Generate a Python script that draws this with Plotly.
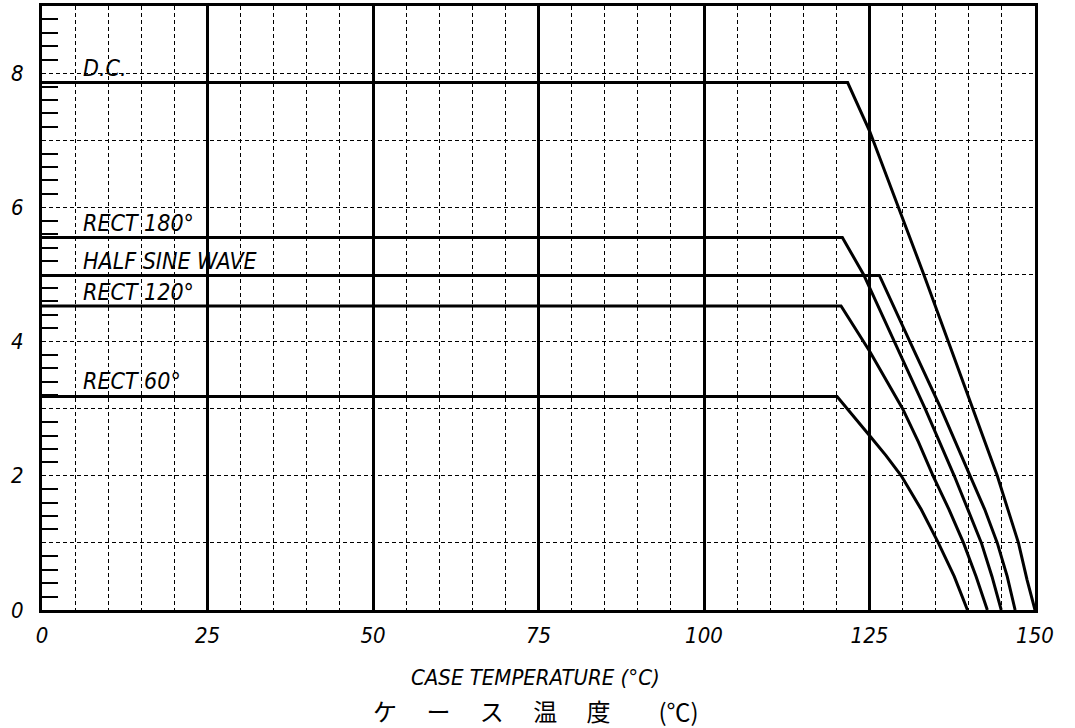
import plotly.graph_objects as go

# ---- data ----
temp_dc = [0, 121.7, 125, 129.4, 133.2, 136.9, 140.6, 142.5, 144.3, 145.9, 147.5, 148.8, 150]
cur_dc = [7.86, 7.86, 7.14, 6.0, 5.0, 4.0, 3.0, 2.5, 2.0, 1.5, 1.0, 0.45, 0.0]

temp_r180 = [0, 120.9, 124.1, 128.8, 133.4, 137.8, 139.9, 141.9, 143.5, 144.9]
cur_r180 = [5.55, 5.55, 5.0, 4.0, 3.0, 2.0, 1.5, 1.0, 0.5, 0.0]

temp_hsw = [0, 126.5, 131.1, 135.8, 140.2, 142.4, 144.3, 145.8, 147.0]
cur_hsw = [4.985, 4.985, 4.0, 3.0, 2.0, 1.5, 1.0, 0.5, 0.0]

temp_r120 = [0, 120.7, 125, 130.0, 132.4, 134.6, 137.0, 139.2, 141.1, 142.8]
cur_r120 = [4.53, 4.53, 3.86, 3.0, 2.5, 2.0, 1.5, 1.0, 0.5, 0.0]

temp_r60 = [0, 120.1, 125.0, 127.5, 129.8, 132.8, 135.4, 137.8, 139.8]
cur_r60 = [3.18, 3.18, 2.6, 2.3, 2.0, 1.5, 1.0, 0.5, 0.0]

series = [
    ("D.C.", temp_dc, cur_dc),
    ("RECT 180°", temp_r180, cur_r180),
    ("HALF SINE WAVE", temp_hsw, cur_hsw),
    ("RECT 120°", temp_r120, cur_r120),
    ("RECT 60°", temp_r60, cur_r60),
]
label_x = 5.9
label_y = [8.08, 5.77, 5.2, 4.74, 3.41]

x_ticks = [0, 25, 50, 75, 100, 125, 150]
y_tickvals = [0, 1, 2, 3, 4, 5, 6, 7, 8, 9]
y_ticklabels = ["0", "", "2", "", "4", "", "6", "", "8", ""]

FONT = "Liberation Sans Narrow, DejaVu Sans Condensed, Liberation Sans, sans-serif"

fig = go.Figure()
for name, xs, ys in series:
    fig.add_trace(go.Scatter(x=xs, y=ys, mode="lines", name=name,
                             line=dict(color="black", width=3),
                             showlegend=False, hoverinfo="skip"))

# invisible trace on overlay axis carrying the minor ticks
fig.add_trace(go.Scatter(x=[0], y=[0], yaxis="y2", mode="markers",
                         marker=dict(opacity=0), showlegend=False,
                         hoverinfo="skip"))

for (name, _, _), ly in zip(series, label_y):
    fig.add_annotation(x=label_x, y=ly, xref="x", yref="y", text=f"<i>{name}</i>",
                       showarrow=False, xanchor="left", yanchor="middle",
                       font=dict(family=FONT, size=23, color="black"))

fig.add_annotation(x=0.497, y=-0.111, xref="paper", yref="paper",
                   text="<i>CASE TEMPERATURE (°C)</i>", showarrow=False,
                   xanchor="center", yanchor="middle",
                   font=dict(family=FONT, size=22, color="black"))
fig.add_annotation(x=0.497, y=-0.166, xref="paper", yref="paper",
                   text="ケ\u3000 ー\u3000 ス\u3000 温\u3000 度\u3000\u3000(℃)",
                   showarrow=False, xanchor="center", yanchor="middle",
                   font=dict(family="Noto Sans CJK JP", size=24,
                             color="black"))

fig.update_layout(
    width=1075, height=728,
    margin=dict(l=42, r=40, t=6, b=118, autoexpand=False),
    paper_bgcolor="white", plot_bgcolor="white",
    xaxis=dict(
        range=[0, 150], tickmode="array", tickvals=x_ticks,
        ticktext=[f"<i>{v}</i>" for v in x_ticks],
        showgrid=True, gridcolor="black", gridwidth=2.5,
        showline=True, linecolor="black", linewidth=3, mirror=True,
        ticks="", zeroline=False, automargin=False, ticklabelstandoff=4,
        tickfont=dict(family=FONT, size=22, color="black"),
        minor=dict(dtick=5, tick0=0, showgrid=True, gridcolor="black",
                   gridwidth=1, griddash="4px,3px", ticks=""),
    ),
    yaxis=dict(
        range=[0, 9], tickmode="array", tickvals=y_tickvals,
        ticktext=[f"<i>{t}</i>" if t else "" for t in y_ticklabels],
        showgrid=True, gridcolor="black", gridwidth=1, griddash="4px,3px",
        showline=True, linecolor="black", linewidth=3, mirror=True,
        ticks="", zeroline=False, ticklabelstandoff=11, automargin=False,
        tickfont=dict(family=FONT, size=22, color="black"),
    ),
    yaxis2=dict(
        overlaying="y", matches="y", side="left", range=[0, 9],
        tickmode="linear", tick0=0, dtick=1, ticks="",
        showticklabels=False, showgrid=False, zeroline=False,
        automargin=False,
        minor=dict(dtick=0.2, tick0=0, ticks="inside", ticklen=16,
                   tickwidth=1.5, tickcolor="black", showgrid=False),
    ),
)

fig.write_html("out.html", config={"displayModeBar": False},
               post_script="document.body.style.margin='0';")
